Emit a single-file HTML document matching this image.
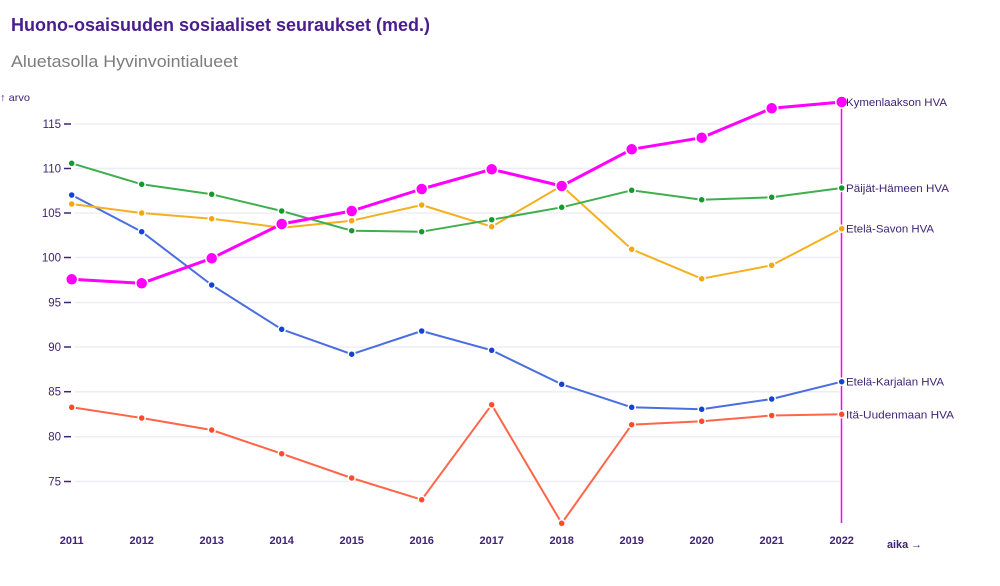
<!DOCTYPE html>
<html><head><meta charset="utf-8"><style>
html,body{margin:0;padding:0;background:#fff;width:1000px;height:586px;overflow:hidden}
svg{display:block;font-family:"Liberation Sans",sans-serif}
</style></head><body>
<svg width="1000" height="586" viewBox="0 0 1000 586" xmlns="http://www.w3.org/2000/svg">
<rect width="1000" height="586" fill="#fff"/>
<text x="11" y="31" font-size="18" font-weight="bold" fill="#4a1d8c" textLength="419" lengthAdjust="spacingAndGlyphs">Huono-osaisuuden sosiaaliset seuraukset (med.)</text>
<text x="11" y="67" font-size="17" fill="#7d7d7d" textLength="227" lengthAdjust="spacingAndGlyphs">Aluetasolla Hyvinvointialueet</text>
<text x="0" y="101" font-size="10.5" fill="#3f2375" textLength="30" lengthAdjust="spacingAndGlyphs">↑ arvo</text>

<g stroke="#ededf5" stroke-width="1.5">
<line x1="75" y1="124" x2="840" y2="124"/>
<line x1="75" y1="168.5" x2="840" y2="168.5"/>
<line x1="75" y1="213" x2="840" y2="213"/>
<line x1="75" y1="257.5" x2="840" y2="257.5"/>
<line x1="75" y1="302.5" x2="840" y2="302.5"/>
<line x1="75" y1="347" x2="840" y2="347"/>
<line x1="75" y1="391.7" x2="840" y2="391.7"/>
<line x1="75" y1="436.7" x2="840" y2="436.7"/>
<line x1="75" y1="481.5" x2="840" y2="481.5"/>
</g>
<g stroke="#3f2375" stroke-width="1.5">
<line x1="64" y1="124" x2="71" y2="124"/>
<line x1="64" y1="168.5" x2="71" y2="168.5"/>
<line x1="64" y1="213" x2="71" y2="213"/>
<line x1="64" y1="257.5" x2="71" y2="257.5"/>
<line x1="64" y1="302.5" x2="71" y2="302.5"/>
<line x1="64" y1="347" x2="71" y2="347"/>
<line x1="64" y1="391.7" x2="71" y2="391.7"/>
<line x1="64" y1="436.7" x2="71" y2="436.7"/>
<line x1="64" y1="481.5" x2="71" y2="481.5"/>
</g>
<g font-size="11.5" fill="#3f2375" text-anchor="end">
<text x="61" y="128">115</text>
<text x="61" y="172.5">110</text>
<text x="61" y="217">105</text>
<text x="61" y="261.5">100</text>
<text x="61" y="306.5">95</text>
<text x="61" y="351">90</text>
<text x="61" y="395.7">85</text>
<text x="61" y="440.7">80</text>
<text x="61" y="485.5">75</text>
</g>
<g font-size="11" fill="#3f2375" text-anchor="middle" font-weight="bold">
<text x="71.7" y="544">2011</text>
<text x="141.7" y="544">2012</text>
<text x="211.7" y="544">2013</text>
<text x="281.7" y="544">2014</text>
<text x="351.7" y="544">2015</text>
<text x="421.7" y="544">2016</text>
<text x="491.7" y="544">2017</text>
<text x="561.7" y="544">2018</text>
<text x="631.7" y="544">2019</text>
<text x="701.7" y="544">2020</text>
<text x="771.7" y="544">2021</text>
<text x="841.7" y="544">2022</text>
</g>
<text x="887" y="548" font-size="11" font-weight="bold" fill="#3f2375" textLength="35" lengthAdjust="spacingAndGlyphs">aika →</text>

<line x1="841.5" y1="102" x2="841.5" y2="523" stroke="#ff00ff" stroke-width="1.5"/>

<!-- Red: Itä-Uudenmaan -->
<polyline fill="none" stroke="#ff6548" stroke-width="2" stroke-linejoin="round" points="71.7,407.3 141.7,418 211.7,430 281.7,453.7 351.7,478 421.7,499.7 491.7,404.7 561.7,523.3 631.7,424.7 701.7,421.3 771.7,415.5 841.7,414.3"/>
<g fill="#ff4a2e" stroke="#fff" stroke-width="1.5">
<circle cx="71.7" cy="407.3" r="3.5"/><circle cx="141.7" cy="418" r="3.5"/><circle cx="211.7" cy="430" r="3.5"/><circle cx="281.7" cy="453.7" r="3.5"/><circle cx="351.7" cy="478" r="3.5"/><circle cx="421.7" cy="499.7" r="3.5"/><circle cx="491.7" cy="404.7" r="3.5"/><circle cx="561.7" cy="523.3" r="3.5"/><circle cx="631.7" cy="424.7" r="3.5"/><circle cx="701.7" cy="421.3" r="3.5"/><circle cx="771.7" cy="415.5" r="3.5"/><circle cx="841.7" cy="414.3" r="3.5"/>
</g>

<!-- Blue: Etelä-Karjalan -->
<polyline fill="none" stroke="#4a6de0" stroke-width="2" stroke-linejoin="round" points="71.7,195 141.7,231.7 211.7,285 281.7,329.3 351.7,354.2 421.7,331 491.7,350.3 561.7,384.3 631.7,407.3 701.7,409.3 771.7,399 841.7,381.7"/>
<g fill="#1542cf" stroke="#fff" stroke-width="1.5">
<circle cx="71.7" cy="195" r="3.5"/><circle cx="141.7" cy="231.7" r="3.5"/><circle cx="211.7" cy="285" r="3.5"/><circle cx="281.7" cy="329.3" r="3.5"/><circle cx="351.7" cy="354.2" r="3.5"/><circle cx="421.7" cy="331" r="3.5"/><circle cx="491.7" cy="350.3" r="3.5"/><circle cx="561.7" cy="384.3" r="3.5"/><circle cx="631.7" cy="407.3" r="3.5"/><circle cx="701.7" cy="409.3" r="3.5"/><circle cx="771.7" cy="399" r="3.5"/><circle cx="841.7" cy="381.7" r="3.5"/>
</g>

<!-- Orange: Etelä-Savon -->
<polyline fill="none" stroke="#f4b01e" stroke-width="2" stroke-linejoin="round" points="71.7,204 141.7,213 211.7,218.7 281.7,227.7 351.7,220.7 421.7,205 491.7,226.7 561.7,185.7 631.7,249.3 701.7,278.7 771.7,265.3 841.7,228.7"/>
<g fill="#f2a70c" stroke="#fff" stroke-width="1.5">
<circle cx="71.7" cy="204" r="3.5"/><circle cx="141.7" cy="213" r="3.5"/><circle cx="211.7" cy="218.7" r="3.5"/><circle cx="281.7" cy="227.7" r="3.5"/><circle cx="351.7" cy="220.7" r="3.5"/><circle cx="421.7" cy="205" r="3.5"/><circle cx="491.7" cy="226.7" r="3.5"/><circle cx="561.7" cy="185.7" r="3.5"/><circle cx="631.7" cy="249.3" r="3.5"/><circle cx="701.7" cy="278.7" r="3.5"/><circle cx="771.7" cy="265.3" r="3.5"/><circle cx="841.7" cy="228.7" r="3.5"/>
</g>

<!-- Green: Päijät-Hämeen -->
<polyline fill="none" stroke="#3fae4f" stroke-width="2" stroke-linejoin="round" points="71.7,163.3 141.7,184.3 211.7,194.3 281.7,211 351.7,230.7 421.7,231.7 491.7,219.7 561.7,207.3 631.7,190.3 701.7,199.7 771.7,197.3 841.7,188"/>
<g fill="#18972e" stroke="#fff" stroke-width="1.5">
<circle cx="71.7" cy="163.3" r="3.5"/><circle cx="141.7" cy="184.3" r="3.5"/><circle cx="211.7" cy="194.3" r="3.5"/><circle cx="281.7" cy="211" r="3.5"/><circle cx="351.7" cy="230.7" r="3.5"/><circle cx="421.7" cy="231.7" r="3.5"/><circle cx="491.7" cy="219.7" r="3.5"/><circle cx="561.7" cy="207.3" r="3.5"/><circle cx="631.7" cy="190.3" r="3.5"/><circle cx="701.7" cy="199.7" r="3.5"/><circle cx="771.7" cy="197.3" r="3.5"/><circle cx="841.7" cy="188" r="3.5"/>
</g>

<!-- Magenta: Kymenlaakson -->
<polyline fill="none" stroke="#ff00ff" stroke-width="3" stroke-linejoin="round" points="71.7,279.3 141.7,283.3 211.7,258.3 281.7,224 351.7,211 421.7,189 491.7,169.3 561.7,186 631.7,149.3 701.7,137.7 771.7,108.3 841.7,102"/>
<g fill="#ff00ff" stroke="#fff" stroke-width="1.5">
<circle cx="71.7" cy="279.3" r="6"/><circle cx="141.7" cy="283.3" r="6"/><circle cx="211.7" cy="258.3" r="6"/><circle cx="281.7" cy="224" r="6"/><circle cx="351.7" cy="211" r="6"/><circle cx="421.7" cy="189" r="6"/><circle cx="491.7" cy="169.3" r="6"/><circle cx="561.7" cy="186" r="6"/><circle cx="631.7" cy="149.3" r="6"/><circle cx="701.7" cy="137.7" r="6"/><circle cx="771.7" cy="108.3" r="6"/><circle cx="841.7" cy="102" r="6"/>
</g>

<g font-size="11" fill="#3f2375">
<text x="846" y="106" textLength="101" lengthAdjust="spacingAndGlyphs">Kymenlaakson HVA</text>
<text x="846" y="192" textLength="103" lengthAdjust="spacingAndGlyphs">Päijät-Hämeen HVA</text>
<text x="846" y="232.7" textLength="88" lengthAdjust="spacingAndGlyphs">Etelä-Savon HVA</text>
<text x="846" y="385.7" textLength="98" lengthAdjust="spacingAndGlyphs">Etelä-Karjalan HVA</text>
<text x="846" y="418.3" textLength="108" lengthAdjust="spacingAndGlyphs">Itä-Uudenmaan HVA</text>
</g>
</svg>
</body></html>
